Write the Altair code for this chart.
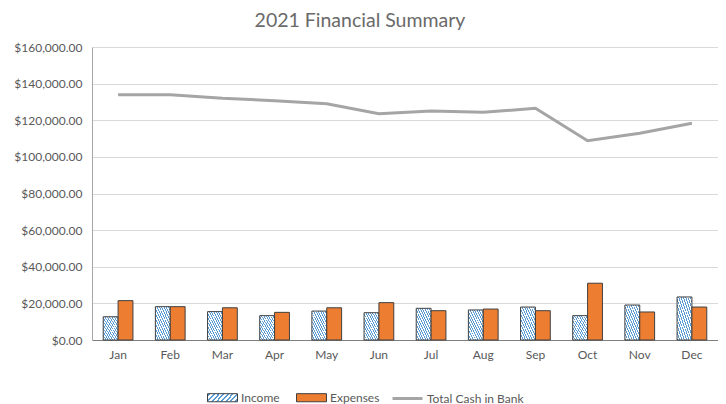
import altair as alt
import pandas as pd

months = ["Jan", "Feb", "Mar", "Apr", "May", "Jun", "Jul", "Aug", "Sep", "Oct", "Nov", "Dec"]
income = [12700, 18200, 15500, 13300, 15800, 14900, 17300, 16400, 18000, 13300, 19100, 23500]
expenses = [21500, 18200, 17600, 15100, 17600, 20400, 16000, 16900, 16000, 31000, 15300, 18000]
cash = [133950, 133950, 131980, 130700, 129050, 123600, 125050, 124320, 126500, 108850, 112860, 118320]
y_ticks = [0, 20000, 40000, 60000, 80000, 100000, 120000, 140000, 160000]

bars = pd.DataFrame(
    [{"month": m, "series": "Income", "value": v} for m, v in zip(months, income)]
    + [{"month": m, "series": "Expenses", "value": v} for m, v in zip(months, expenses)]
)
line = pd.DataFrame({"month": months, "series": "Total Cash in Bank", "value": cash})

# hatched fill for Income built as a striped linear gradient
blue, white = "#5B9BD5", "#FFFFFF"
n = 13
stops = []
for i in range(n):
    a, b, c = i / n, (i + 0.42) / n, (i + 1) / n
    stops += [(a, blue), (b, blue), (b, white), (c, white)]
stop_txt = ",".join("{offset:%.4f,color:'%s'}" % (o, col) for o, col in stops)
hatch_expr = "{gradient:'linear',x1:0,y1:1,x2:1,y2:0,stops:[" + stop_txt + "]}"

FONT = "Lato"
TXT = "#595959"

x_enc = alt.X(
    "month:N",
    sort=months,
    scale=alt.Scale(paddingInner=0.43, paddingOuter=0.215),
    axis=alt.Axis(title=None, labelAngle=0, ticks=False, labelPadding=9,
                  domainColor="#7F7F7F", domainWidth=1),
)
y_enc = alt.Y(
    "value:Q",
    scale=alt.Scale(domain=[0, 160000], nice=False),
    axis=alt.Axis(title=None, values=y_ticks, format="$,.2f", ticks=False, labelOverlap=False,
                  labelPadding=10, gridColor="#D9D9D9", domainColor="#A6A6A6"),
)

bar_layer = alt.Chart(bars).mark_bar(stroke="#404040", strokeWidth=1).encode(
    x=x_enc,
    xOffset=alt.XOffset("series:N", sort=["Income", "Expenses"], scale=alt.Scale(paddingInner=0, paddingOuter=0)),
    y=y_enc,
    fill=alt.Fill(
        "series:N",
        sort=["Income", "Expenses"],
        scale=alt.Scale(domain=["Income", "Expenses"], range=[alt.ExprRef(hatch_expr), "#ED7D31"]),
        legend=alt.Legend(
            title=None, orient="none", direction="horizontal", legendX=115, legendY=335,
            symbolType="M-1,-0.27H1V0.27H-1Z", symbolSize=900,
            symbolStrokeColor="#404040", symbolStrokeWidth=1,
            labelOffset=3, columnPadding=14, padding=0,
            labelFont=FONT, labelFontSize=12, labelColor=TXT,
        ),
    ),
)

line_layer = alt.Chart(line).mark_line(strokeWidth=3).encode(
    x=x_enc,
    y=y_enc,
    stroke=alt.Stroke(
        "series:N",
        scale=alt.Scale(domain=["Total Cash in Bank"], range=["#A5A5A5"]),
        legend=alt.Legend(
            title=None, orient="none", direction="horizontal", legendX=299, legendY=335,
            symbolType="stroke", symbolSize=900, symbolStrokeWidth=3,
            labelOffset=3, padding=0,
            labelFont=FONT, labelFontSize=12, labelColor=TXT,
        ),
    ),
)

chart = (
    alt.layer(bar_layer, line_layer)
    .properties(
        width=626,
        height=293,
        title=alt.TitleParams("2021 Financial Summary", font=FONT, fontSize=19.5, fontWeight="normal",
                              color="#6A6A6A", anchor="middle", dx=-45, offset=10),
        autosize=alt.AutoSizeParams(type="none"),
        padding={"left": 84, "top": 39, "right": 0, "bottom": 64},
    )
    .configure_view(stroke=None)
    .configure_axis(labelFont=FONT, labelFontSize=12, labelColor=TXT)
)

chart.save("out.html", embed_options={"renderer": "svg", "actions": False})
